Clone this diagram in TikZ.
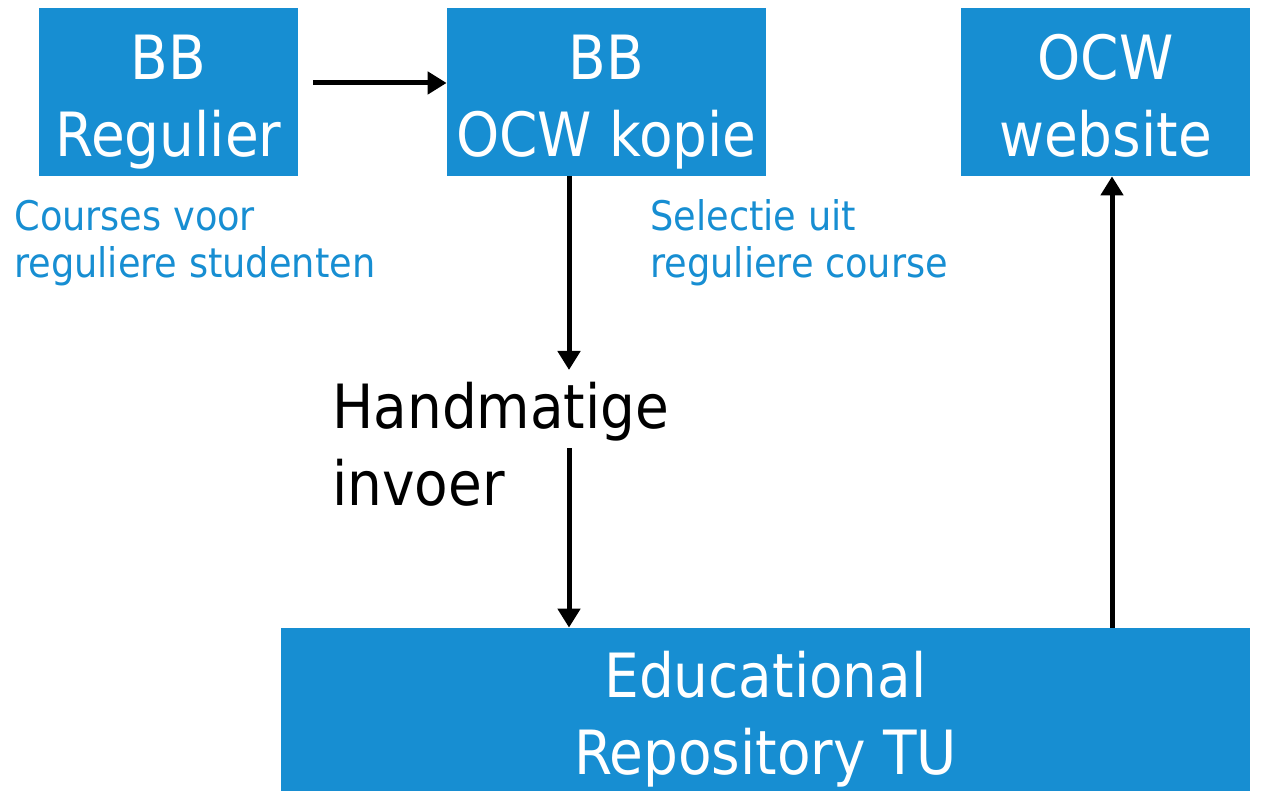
\documentclass[tikz,border=0pt]{standalone}
\usepackage{fontspec}
\setmainfont{DejaVu Sans Condensed}
\usepackage{xcolor}
\usetikzlibrary{positioning,calc,arrows.meta}
\definecolor{tublue}{RGB}{23,142,210}
\tikzset{
  bbbox/.style={fill=tublue, text=white, align=center, inner sep=0pt,
    font=\fontsize{30.5}{38.5}\selectfont,
    execute at end node={\rule[-8pt]{0pt}{81pt}}},
  bluelabel/.style={text=tublue, align=left, inner sep=0pt, anchor=base west,
    font=\fontsize{20.4}{23.5}\selectfont},
  flow/.style={line width=2.5pt, -{Triangle[length=9.5pt,width=11pt]}}
}
\begin{document}
\begin{tikzpicture}[x=0.5pt, y=-0.5pt]
    \useasboundingbox (0,0) rectangle (1264,791);

    % Boxes
    \node[bbbox, minimum width=129.5pt, minimum height=84pt] (regulier) at (168.5,92) {BB\\Regulier};
    \node[bbbox, minimum width=159.5pt, minimum height=84pt] (kopie) at (606.5,92) {BB\\OCW kopie};
    \node[bbbox, minimum width=144.5pt, minimum height=84pt] (website) at (1105.5,92) {OCW\\website};
    \node[bbbox, minimum width=484.5pt, minimum height=81.5pt] (repo) at (765.5,709.5) {Educational\\Repository TU};

    % Blue notes
    \node[bluelabel] (courses) at (14,278) {Courses voor\\reguliere studenten};
    \node[bluelabel] (selectie) at (650,278) {Selectie uit\\reguliere course};

    % Manual step
    \node[align=left, inner sep=0pt, anchor=base west, font=\fontsize{30.5}{38.5}\selectfont] (invoer) at (332,505) {Handmatige\\invoer};
    \coordinate (start) at (313,83);
    \coordinate (stop) at (569,370);
    \coordinate (restart) at (569,448);

    % Arrows
    \draw[flow] (start) -- (kopie.west |- start);
    \draw[flow] (kopie.south -| stop) -- (stop);
    \draw[flow] (restart) -- (repo.north -| restart);
    \draw[flow] ($(repo.north -| website.south)+(6.5,0)$) coordinate (up) -- (up |- website.south);
\end{tikzpicture}
\end{document}
